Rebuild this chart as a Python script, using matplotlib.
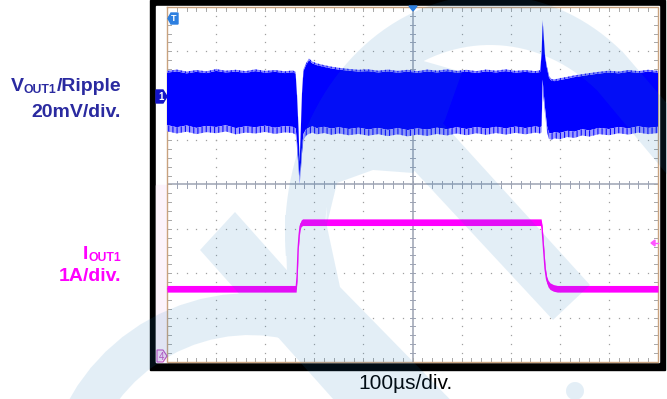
import numpy as np
import matplotlib
matplotlib.use("Agg")
import matplotlib.pyplot as plt
from matplotlib.path import Path
from matplotlib.patches import PathPatch, Polygon, Rectangle

plt.rcParams["font.family"] = ["Liberation Sans", "DejaVu Sans"]
plt.rcParams["hatch.linewidth"] = 0.8

W, H = 667, 399

# ---- values ----
# time in us relative to the trigger (screen centre), 100 us/div
t_v = [-500, -480, -460, -440, -420, -400, -380, -360, -340, -320, -300, -280,
       -260, -244, -238, -235, -232, -230, -228, -225, -222, -217, -211, -204,
       -195, -180, -165, -150, -130, -110, -90, -70, -50, -30, -10, 10, 30, 50,
       70, 90, 110, 130, 150, 170, 190, 210, 230, 250, 260, 263, 265, 267, 270,
       274, 278, 283, 290, 300, 315, 330, 345, 360, 380, 400, 420, 440, 460,
       480, 500]
# upper / lower edge of the VOUT1 ripple band, mV (relative to CH1 marker)
v_top = [11.2, 11.8, 10.9, 11.6, 11.0, 12.0, 11.3, 11.7, 11.1, 11.9, 11.2, 11.6,
         11.0, 11.4, 10.8, 0.0, -15.0, -29.0, -18.0, 2.0, 12.0, 14.5, 16.8, 15.4,
         14.6, 13.8, 13.1, 12.6, 12.1, 11.7, 11.9, 11.3, 11.8, 11.2, 11.7, 11.1,
         11.8, 11.3, 11.9, 11.2, 11.7, 11.1, 11.8, 11.3, 11.9, 11.2, 11.6, 11.1,
         11.5, 20.0, 34.3, 28.0, 18.5, 13.0, 9.0, 7.5, 7.4, 7.9, 8.5, 9.2, 9.7,
         10.2, 10.8, 11.3, 10.9, 11.6, 11.1, 11.7, 11.2]
v_bot = [-16.0, -17.0, -16.2, -17.3, -16.4, -16.9, -16.1, -17.4, -16.6, -17.0,
         -16.3, -17.2, -16.5, -16.8, -17.5, -24.0, -33.0, -40.0, -36.0, -26.0,
         -20.0, -18.0, -17.2, -16.6, -17.4, -16.8, -17.6, -17.0, -17.8, -17.2,
         -18.0, -17.3, -18.2, -17.4, -18.3, -17.5, -18.1, -17.2, -17.9, -17.0,
         -17.8, -16.9, -17.6, -16.8, -17.5, -16.7, -17.4, -16.6, -17.0, -16.5,
         4.5, -1.0, -8.5, -16.5, -19.5, -19.8, -19.2, -19.6, -18.6, -19.0, -17.9,
         -18.4, -17.3, -17.8, -16.9, -17.5, -16.6, -17.3, -16.8]

# IOUT1 load step, A
t_i = [-500, -237, -235, -233, -231, -229, -227, -224, -220, 262, 264, 266, 268,
       270, 273, 276, 280, 287, 295, 500]
i_out = [1.5, 1.5, 1.78, 2.39, 2.7, 2.9, 2.97, 3.0, 3.0, 3.0, 2.85, 2.55, 2.25,
         1.95, 1.72, 1.62, 1.56, 1.52, 1.5, 1.5]

CH1_POS, V_SCALE = 2.0, 20.0     # div, mV/div
CH4_POS, I_SCALE = -3.85, 1.0    # div, A/div
TOP_FUZZ, BOT_FUZZ = 0.04, 0.14  # div of spiky edge on the ripple band

# screen geometry in pixels
GX0, GX1, GY0, GY1 = 167, 658, 7, 362

fig = plt.figure(figsize=(W / 100, H / 100), dpi=100)

# background: black bezel + white screen
bg = fig.add_axes([0, 0, 1, 1], zorder=0)
bg.set_xlim(0, W); bg.set_ylim(H, 0); bg.axis("off")
bg.add_patch(Rectangle((150, 0), 515, 370, color="black"))
bg.add_patch(Rectangle((156, 6), 503, 356, color="white"))
bg.add_patch(Rectangle((156, 185), 11, 177, color="#fcf3fb"))

# scope graticule axes
ax = fig.add_axes([GX0 / W, 1 - GY1 / H, (GX1 - GX0) / W, (GY1 - GY0) / H], zorder=1)
ax.patch.set_alpha(0)
ax.set_xlim(-500, 500); ax.set_ylim(-4, 4); ax.axis("off")

dot = dict(ls="none", marker="s", ms=0.9, color="#a0a0a0", mew=0, zorder=1)
ys = np.arange(-4, 4.01, 0.2)
xs = np.arange(-500, 500.1, 20)
for xv in [-400, -300, -200, -100, 100, 200, 300, 400]:
    ax.plot(np.full_like(ys, xv), ys, **dot)
for yv in [-3, -2, -1, 1, 2, 3]:
    ax.plot(xs, np.full_like(xs, yv), **dot)

ax.axhline(0, color="#9ca3b3", lw=1.1, zorder=1)
ax.axvline(0, color="#9ca3b3", lw=1.1, zorder=1)
for xv in xs:
    ax.plot([xv, xv], [-0.07, 0.07], color="#9ca3b3", lw=0.7, zorder=1)
    ax.plot([xv, xv], [-4, -3.92], color="#a8a8a8", lw=0.7, zorder=1)
    ax.plot([xv, xv], [4, 3.92], color="#a8a8a8", lw=0.7, zorder=1)
for yv in ys:
    ax.plot([-6, 6], [yv, yv], color="#9ca3b3", lw=0.7, zorder=1)
    ax.plot([-500, -492], [yv, yv], color="#a8a8a8", lw=0.7, zorder=1)
    ax.plot([500, 492], [yv, yv], color="#a8a8a8", lw=0.7, zorder=1)
ax.plot([-500, -500, 500, 500, -500], [4, -4, -4, 4, 4], color="#c9a27e", lw=1.0,
        clip_on=False)

# VOUT1 ripple band: solid core, hatched (spiky) edges
tv = np.array(t_v)
top = CH1_POS + np.array(v_top) / V_SCALE
bot = CH1_POS + np.array(v_bot) / V_SCALE
ax.fill_between(tv, bot + BOT_FUZZ, top - TOP_FUZZ, facecolor="#0000ff", lw=0, zorder=3)
ax.fill_between(tv, top - TOP_FUZZ, top, facecolor="#8080ff", hatch="||||",
                edgecolor="#0a0aff", lw=0, zorder=3)
ax.fill_between(tv, bot, bot + BOT_FUZZ, facecolor="#9a9aff", hatch="||||",
                edgecolor="#0a0aff", lw=0, zorder=3)

# IOUT1 trace
ti = np.array(t_i)
ic = CH4_POS + np.array(i_out) / I_SCALE
ax.fill_between(ti, ic - 0.075, ic + 0.075, color="#ff00ff", lw=0, zorder=3)
ax.plot(ti, ic, color="#ff00ff", lw=1.0, zorder=3)

# overlay: markers and labels, pixel coordinates
ov = fig.add_axes([0, 0, 1, 1], zorder=2)
ov.set_xlim(0, W); ov.set_ylim(H, 0); ov.axis("off"); ov.patch.set_alpha(0)

ov.add_patch(Polygon([(156, 90), (163, 90), (167, 96.5), (163, 103), (156, 103)],
                     color="#1414c8"))
ov.text(161, 97, "1", color="white", fontsize=7, fontweight="bold", ha="center", va="center")
ov.add_patch(Polygon([(178, 13), (171, 13), (168, 18.5), (171, 24), (178, 24)],
                     color="#2d7fe0"))
ov.text(173.5, 18.8, "T", color="white", fontsize=6.5, fontweight="bold", ha="center", va="center")
ov.add_patch(Polygon([(409, 6), (417, 6), (413, 11)], color="#2d7fe0"))
ov.add_patch(Polygon([(157, 350), (163, 350), (167, 356), (163, 362), (157, 362)],
                     facecolor="#f7dcf7", edgecolor="#c050c0", lw=0.8))
ov.text(161.5, 356.5, "4", color="#c050c0", fontsize=7, ha="center", va="center")
ov.add_patch(Polygon([(651, 243), (655, 240), (655, 246)], color="#ff55ff"))
ov.plot([653, 658], [243, 243], color="#ff55ff", lw=1)

renderer = fig.canvas.get_renderer()


def text_runs(x_right, y_base, runs, color, weight):
    x = x_right
    for s, size, dy in reversed(runs):
        t = ov.text(x, y_base + dy, s, ha="right", va="baseline", fontsize=size,
                    color=color, fontweight=weight)
        x -= t.get_window_extent(renderer).width


text_runs(121, 91, [("V", 14, 0), ("OUT1", 8.8, 2), ("/Ripple", 14, 0)],
          "#2a2aa0", "bold")
text_runs(121, 117, [("20mV/div.", 14, 0)], "#2a2aa0", "bold")
text_runs(121, 259, [("I", 14, 0), ("OUT1", 8.8, 2)], "#ff00ff", "bold")
text_runs(121, 281, [("1A/div.", 14, 0)], "#ff00ff", "bold")
ov.text(405, 389, "100µs/div.", ha="center", va="baseline", fontsize=15, color="black")

# light logo watermark laid over everything
wm = fig.add_axes([0, 0, 1, 1], zorder=3)
wm.set_xlim(0, W); wm.set_ylim(H, 0); wm.axis("off"); wm.patch.set_alpha(0)

verts, codes = [], []


def add_loop(pts, hole=False):
    pts = np.asarray(pts, dtype=float)
    x, y = pts[:, 0], pts[:, 1]
    area = 0.5 * np.sum(x * np.roll(y, -1) - np.roll(x, -1) * y)
    if (area < 0) != hole:
        pts = pts[::-1]
    verts.extend(pts.tolist() + [pts[0].tolist()])
    codes.extend([Path.MOVETO] + [Path.LINETO] * (len(pts) - 1) + [Path.CLOSEPOLY])


def arc(cx, cy, rx, ry, a0, a1, n=60):
    a = np.radians(np.linspace(a0, a1, n))
    return np.column_stack([cx + rx * np.cos(a), cy + ry * np.sin(a)])


add_loop(arc(250, 500, 207, 207, 0, 360))
add_loop(arc(250, 500, 165, 165, 0, 360), hole=True)
add_loop([(200, 250), (235, 212), (435, 436), (400, 474)])
outer = arc(490, 235, 205, 240, 175, 310)
inner = arc(490, 235, 165, 190, 175, 310)[::-1]
add_loop(np.vstack([outer, inner]))
add_loop([(285, 215), (326, 222), (340, 287), (480, 430), (410, 430), (288, 300)])
add_loop([(622, 51), (760, 212), (730, 250), (596, 89)])
add_loop([(326, 228), (337, 183), (373, 170), (413, 173), (445, 120), (462, 72),
          (420, 60), (330, 130)])
add_loop([(395, 150), (440, 120), (590, 285), (553, 320)])
add_loop(arc(575, 391, 9, 9, 0, 360))
wm.add_patch(PathPatch(Path(verts, codes), facecolor="#1e7abc", alpha=0.12, lw=0))

fig.savefig("out.png", dpi=100)
